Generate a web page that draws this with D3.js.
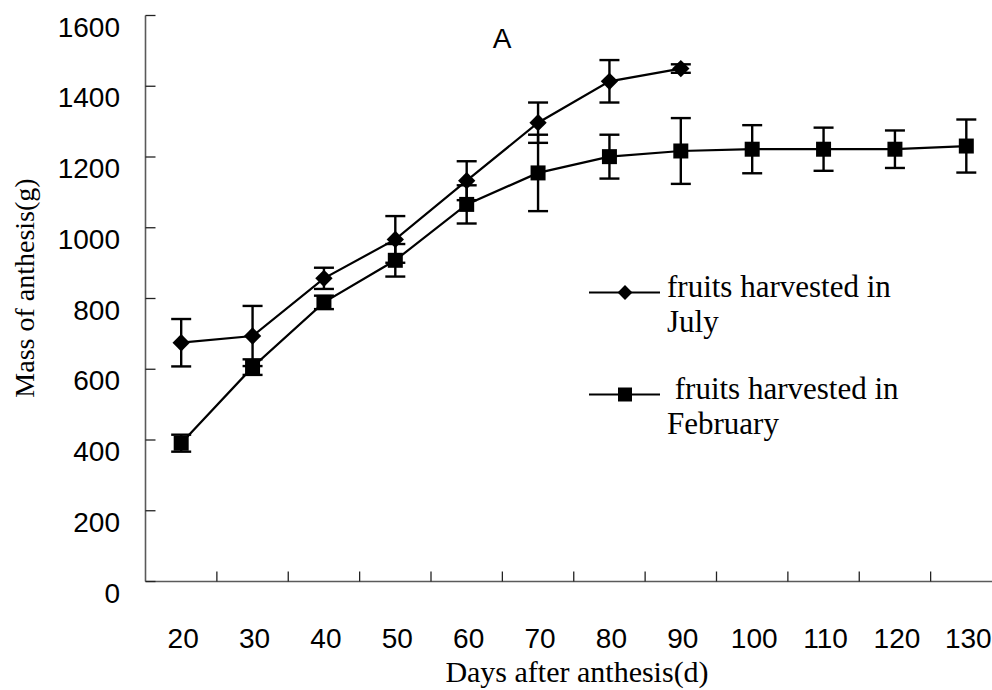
<!DOCTYPE html>
<html>
<head>
<meta charset="utf-8">
<script src="https://cdn.jsdelivr.net/npm/d3@7"></script>
<style>
  html, body { margin: 0; padding: 0; background: #fff; }
  svg { display: block; }
  .tick-lbl { font-family: "Liberation Sans", Arial, sans-serif; font-size: 28px; fill: #000; }
  .title { font-family: "Liberation Serif", "Times New Roman", serif; fill: #000; }
</style>
</head>
<body>
<div id="chart"></div>
<script>
// days after anthesis (categories on the x axis)
var days = [20, 30, 40, 50, 60, 70, 80, 90, 100, 110, 120, 130];
// fruits harvested in July (diamonds), mean and error
var julyMean = [675, 694, 857, 967, 1133, 1297, 1414, 1450];
var julyErr  = [67, 85, 30, 66, 55, 57, 60, 12];
// fruits harvested in February (squares), mean and error
var febMean = [391, 606, 789, 908, 1066, 1155, 1201, 1217, 1222, 1222, 1222, 1231];
var febErr  = [24, 22, 19, 46, 54, 108, 62, 93, 68, 61, 53, 75];
var yTicks = [0, 200, 400, 600, 800, 1000, 1200, 1400, 1600];

var W = 992, H = 690;
var svg = d3.select("#chart").append("svg").attr("width", W).attr("height", H);

var x = d3.scaleBand().domain(days).range([145.5, 1002]).padding(0);
var y = d3.scaleLinear().domain([0, 1600]).range([581.5, 15.5]);
var cx = function (i) { return x(days[i]) + x.bandwidth() / 2; };

// axes
var axisCol = "#5a5a5a";
svg.append("line").attr("x1", 145.5).attr("x2", W).attr("y1", y(0)).attr("y2", y(0))
  .attr("stroke", axisCol).attr("stroke-width", 1.6);
svg.append("line").attr("x1", 145.5).attr("x2", 145.5).attr("y1", y(0)).attr("y2", y(1600))
  .attr("stroke", axisCol).attr("stroke-width", 1.6);

yTicks.forEach(function (t) {
  svg.append("line").attr("x1", 145.5).attr("x2", 155.5).attr("y1", y(t)).attr("y2", y(t))
    .attr("stroke", "#222").attr("stroke-width", 1.3);
  svg.append("text").attr("class", "tick-lbl").attr("x", 120).attr("y", y(t) + 21)
    .attr("text-anchor", "end").text(t);
});

days.forEach(function (d, i) {
  if (i > 0) {
    svg.append("line").attr("x1", x(d)).attr("x2", x(d)).attr("y1", y(0)).attr("y2", y(0) - 10)
      .attr("stroke", "#222").attr("stroke-width", 1.3);
  }
  svg.append("text").attr("class", "tick-lbl").attr("x", cx(i) + 2).attr("y", 648)
    .attr("text-anchor", "middle").text(d);
});

// titles
svg.append("text").attr("class", "title").attr("font-size", 30)
  .attr("x", 577).attr("y", 682).attr("text-anchor", "middle").text("Days after anthesis(d)");
svg.append("text").attr("class", "title").attr("font-size", 28)
  .attr("transform", "translate(34,288) rotate(-90)").attr("text-anchor", "middle")
  .text("Mass of anthesis(g)");
svg.append("text").attr("class", "tick-lbl").attr("font-size", 28)
  .attr("x", 502).attr("y", 48).attr("text-anchor", "middle").text("A");

var line = d3.line().x(function (d, i) { return cx(i); }).y(function (d) { return y(d); });

// diamond = square turned by 45 degrees
function marker(size) {
  return d3.symbol().type(d3.symbolSquare).size(size)();
}
function rot(shape) { return shape === "diamond" ? " rotate(45)" : ""; }

function series(mean, err, shape) {
  var g = svg.append("g");
  g.append("path").attr("d", line(mean)).attr("fill", "none")
    .attr("stroke", "#000").attr("stroke-width", 2.2);
  mean.forEach(function (m, i) {
    var px = cx(i), hi = y(m + err[i]), lo = y(m - err[i]);
    g.append("line").attr("x1", px).attr("x2", px).attr("y1", hi).attr("y2", lo)
      .attr("stroke", "#000").attr("stroke-width", 2.4);
    [hi, lo].forEach(function (cy) {
      g.append("line").attr("x1", px - 10).attr("x2", px + 10).attr("y1", cy).attr("y2", cy)
        .attr("stroke", "#000").attr("stroke-width", 2.4);
    });
  });
  g.selectAll(".mk").data(mean).enter().append("path")
    .attr("d", marker(shape === "square" ? 225 : 150))
    .attr("transform", function (d, i) {
      return "translate(" + cx(i) + "," + y(d) + ")" + rot(shape);
    })
    .attr("fill", "#000");
}

series(febMean, febErr, "square");
series(julyMean, julyErr, "diamond");

// legend
var legend = [
  { y: 292.5, shape: "diamond", size: 110, l1: "fruits harvested in", l2: "July", tx: 667, ty: 297 },
  { y: 394.5, shape: "square", size: 196, l1: " fruits harvested in", l2: "February", tx: 667, ty: 399 }
];
legend.forEach(function (d) {
  svg.append("line").attr("x1", 589).attr("x2", 660).attr("y1", d.y).attr("y2", d.y)
    .attr("stroke", "#000").attr("stroke-width", 2.2);
  svg.append("path").attr("d", marker(d.size))
    .attr("transform", "translate(625," + d.y + ")" + rot(d.shape)).attr("fill", "#000");
  var t = svg.append("text").attr("class", "title").attr("font-size", 31)
    .attr("x", d.tx).attr("y", d.ty).attr("xml:space", "preserve").style("white-space", "pre");
  t.append("tspan").attr("x", d.tx).text(d.l1);
  t.append("tspan").attr("x", d.tx).attr("dy", 35).text(d.l2);
});
</script>
</body>
</html>
